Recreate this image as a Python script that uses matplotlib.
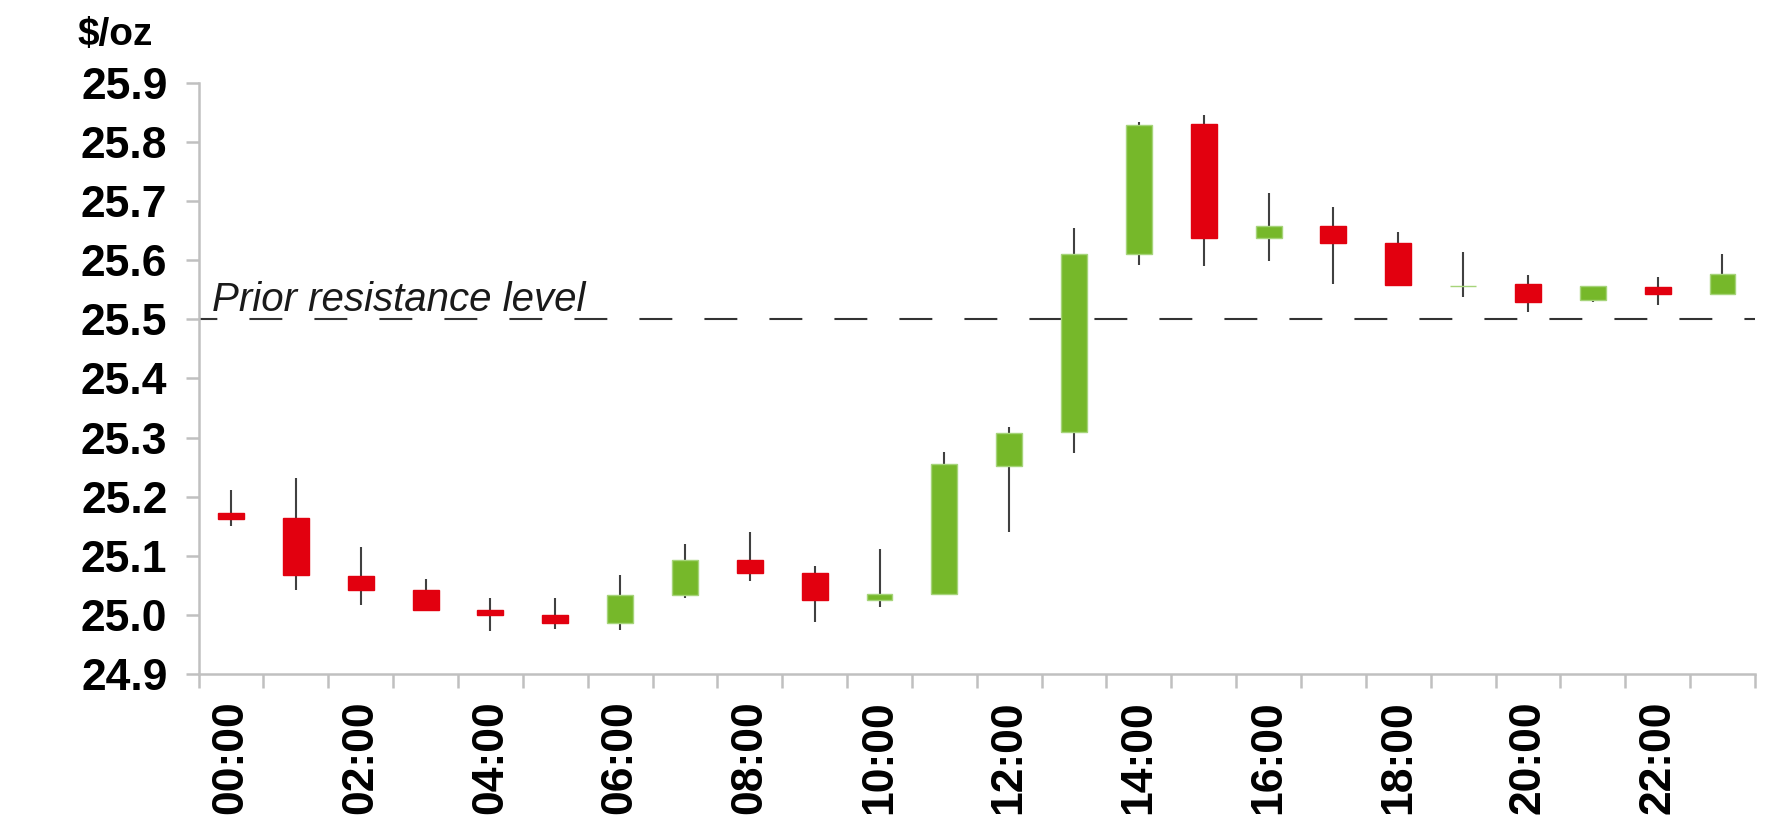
import matplotlib
matplotlib.use("Agg")
import matplotlib.pyplot as plt
import numpy as np

# ---- data ----
hours = ["00:00", "01:00", "02:00", "03:00", "04:00", "05:00", "06:00", "07:00",
         "08:00", "09:00", "10:00", "11:00", "12:00", "13:00", "14:00", "15:00",
         "16:00", "17:00", "18:00", "19:00", "20:00", "21:00", "22:00", "23:00"]
open_ = [25.172, 25.164, 25.066, 25.042, 25.009, 25.000, 24.987, 25.034,
         25.093, 25.071, 25.026, 25.035, 25.252, 25.309, 25.611, 25.830,
         25.637, 25.657, 25.629, 25.557, 25.559, 25.533, 25.554, 25.543]
close = [25.163, 25.067, 25.042, 25.009, 25.000, 24.986, 25.034, 25.093,
         25.071, 25.026, 25.035, 25.255, 25.308, 25.611, 25.829, 25.637,
         25.657, 25.629, 25.558, 25.557, 25.529, 25.556, 25.543, 25.577]
high = [25.211, 25.231, 25.114, 25.060, 25.028, 25.028, 25.068, 25.120,
        25.140, 25.082, 25.112, 25.275, 25.317, 25.655, 25.834, 25.846,
        25.714, 25.689, 25.647, 25.614, 25.574, 25.556, 25.571, 25.611]
low = [25.151, 25.042, 25.017, 25.006, 24.972, 24.976, 24.974, 25.029,
       25.058, 24.988, 25.014, 25.033, 25.141, 25.273, 25.592, 25.590,
       25.598, 25.559, 25.556, 25.538, 25.513, 25.529, 25.524, 25.543]
resistance = 25.5
y_ticks = [24.9, 25.0, 25.1, 25.2, 25.3, 25.4, 25.5, 25.6, 25.7, 25.8, 25.9]
unit_label = "$/oz"
resistance_label = "Prior resistance level"

# ---- style ----
plt.rcParams['font.family'] = ['Liberation Sans', 'DejaVu Sans']
GREEN = '#76B82A'
GREEN_EDGE = '#A6D47A'
RED = '#E2000F'
RED_EDGE = '#E2000F'
AXIS_GREY = '#C0C0C0'

fig = plt.figure(figsize=(17.88, 8.34), dpi=100)
ax = fig.add_axes([0.1111, 0.1918, 0.9815 - 0.1111, 0.9008 - 0.1918])

x = np.arange(len(hours))
o = np.array(open_)
c = np.array(close)
up = c >= o

# wicks
ax.vlines(x, low, high, color='#404040', lw=1.5, zorder=2)
# bodies
face = [GREEN if u else RED for u in up]
edge = [GREEN_EDGE if u else RED_EDGE for u in up]
ax.bar(x, c - o, bottom=o, width=0.4, color=face, edgecolor=edge,
       linewidth=1.0, zorder=3)

# resistance line
ax.axhline(resistance, color='#333333', lw=1.5,
           linestyle=(7.0, (15.8, 15.4)), zorder=1)
ax.text(0.0085, resistance + 0.014, resistance_label, transform=ax.get_yaxis_transform(),
        fontsize=29, style='italic', color='#1a1a1a', va='baseline', ha='left')

# axes
ax.set_xlim(-0.5, len(hours) - 0.5)
ax.set_ylim(24.9, 25.9)
for s in ['top', 'right']:
    ax.spines[s].set_visible(False)
for s in ['left', 'bottom']:
    ax.spines[s].set_color(AXIS_GREY)
    ax.spines[s].set_linewidth(1.8)

ax.set_yticks(y_ticks)
ax.set_yticklabels([f"{v:.1f}" for v in y_ticks], fontsize=32, fontweight='bold')
ax.tick_params(axis='y', length=9.5, width=1.8, color=AXIS_GREY, pad=13)

ax.set_xticks(np.arange(-0.5, len(hours), 1.0))
ax.set_xticklabels([])
ax.tick_params(axis='x', which='major', length=10, width=1.8, color=AXIS_GREY)
ax.set_xticks(x[::2], minor=True)
ax.set_xticklabels(hours[::2], minor=True, rotation=90, fontsize=32, fontweight='bold')
ax.tick_params(axis='x', which='minor', length=0, pad=19)

fig.text(0.0432, 1 - 45 / 834, unit_label, fontsize=28, fontweight='bold',
         ha='left', va='baseline')

fig.savefig("out.png", dpi=100)
